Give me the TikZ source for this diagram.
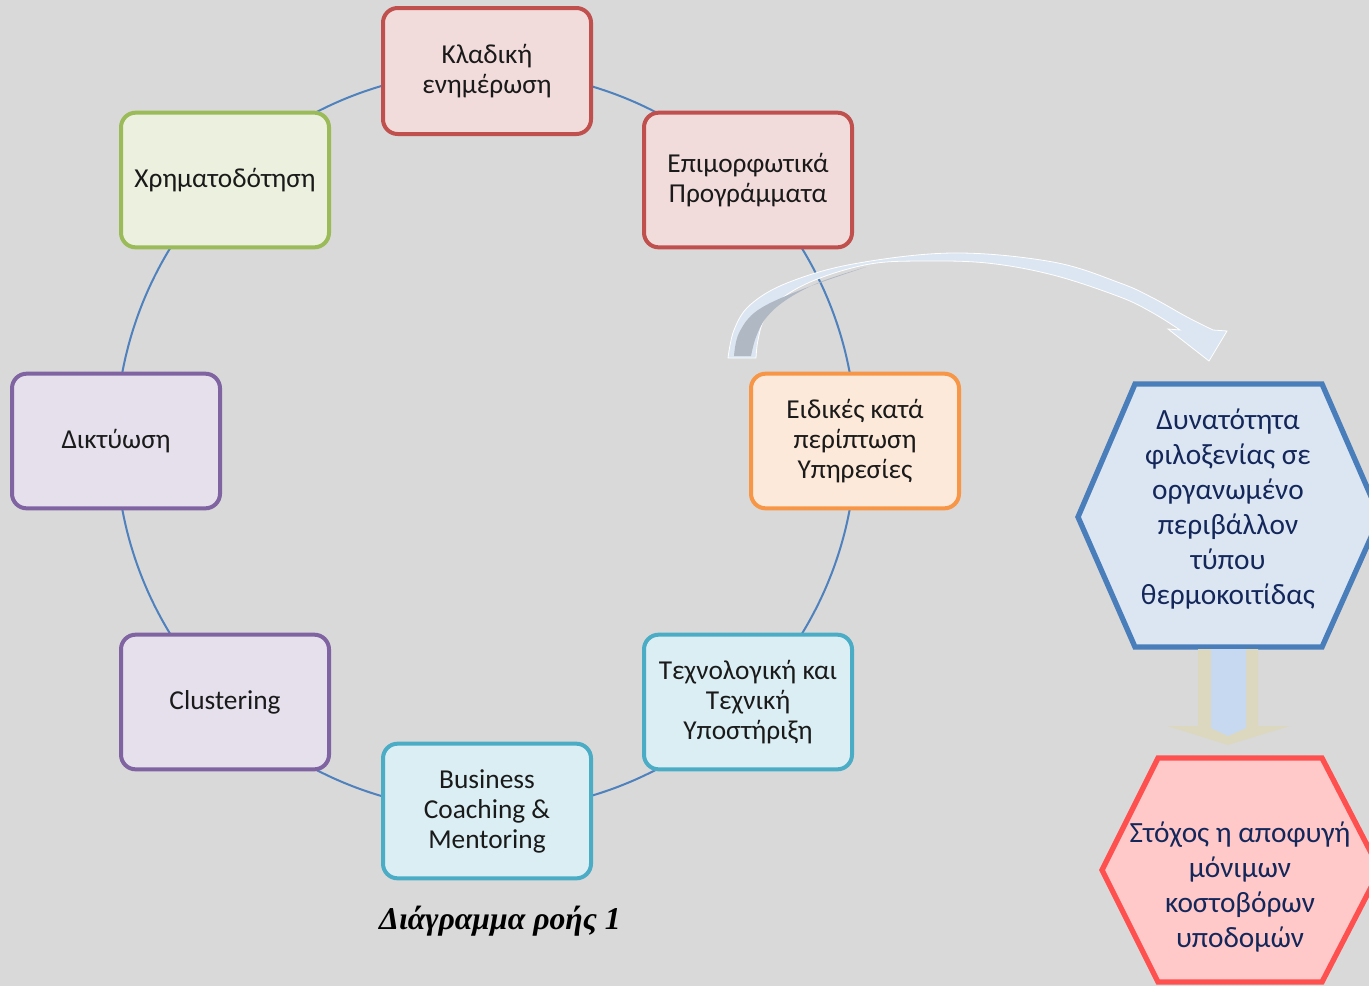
\documentclass[tikz,border=0pt]{standalone}
\usepackage{fontspec}
\setmainfont{Carlito}
\newfontfamily\capfont{Liberation Serif}
\definecolor{bg}{HTML}{D9D9D9}
\definecolor{ringc}{HTML}{4F81BD}
\definecolor{redB}{HTML}{C0504D}
\definecolor{redF}{HTML}{F2DCDB}
\definecolor{orgB}{HTML}{F79646}
\definecolor{orgF}{HTML}{FDE9D9}
\definecolor{tealB}{HTML}{4BACC6}
\definecolor{tealF}{HTML}{DAEEF3}
\definecolor{purB}{HTML}{8064A2}
\definecolor{purF}{HTML}{E5E0EC}
\definecolor{grnB}{HTML}{9BBB59}
\definecolor{grnF}{HTML}{EBF1DE}
\definecolor{hexBlueB}{HTML}{4A7EBB}
\definecolor{hexBlueF}{HTML}{DCE6F2}
\definecolor{hexRedB}{HTML}{FF5050}
\definecolor{hexRedF}{HTML}{FFC9C9}
\definecolor{navy}{HTML}{14275A}
\definecolor{arrF}{HTML}{DCE6F2}
\definecolor{arrG}{HTML}{B0B8C4}
\definecolor{tan}{HTML}{DCD8C0}
\definecolor{ltblue}{HTML}{C6D9F1}
\definecolor{txt}{HTML}{1A1A1A}
\begin{document}
\begin{tikzpicture}[x=0.75pt,y=-0.75pt,
  box/.style={rectangle, rounded corners=11pt, line width=3pt, minimum width=156pt,
    minimum height=101pt, align=center, text=txt, font=\fontsize{20.5}{22.5}\selectfont},
  ringline/.style={draw=ringc, line width=1.5pt},
  hextext/.style={align=center, text=navy, font=\fontsize{22}{26.25}\selectfont},
  hexshape/.style={line width=4pt, line join=miter}]
\clip (0,0) rectangle (1369,986);
\fill[bg] (0,0) rectangle (1369,986);
\useasboundingbox (0,0) rectangle (1369,986);
% ring
\coordinate (rc) at (486,441);
\draw[ringline] (rc) circle[radius=370];
% boxes
\node[box, draw=redB, fill=redF, minimum height=94.5pt] (n1) at (487,71) {Κλαδική\\ενημέρωση};
\node[box, draw=redB, fill=redF] (n2) at (748,180) {Επιμορφωτικά\\Προγράμματα};
\node[box, draw=orgB, fill=orgF] (n3) at (855,441) {Ειδικές κατά\\περίπτωση\\Υπηρεσίες};
\node[box, draw=tealB, fill=tealF] (n4) at (748,702) {Τεχνολογική και\\Τεχνική\\Υποστήριξη};
\node[box, draw=tealB, fill=tealF] (n5) at (487,811) {Business\\Coaching \&\\Mentoring};
\node[box, draw=purB, fill=purF] (n6) at (225,702) {Clustering};
\node[box, draw=purB, fill=purF] (n7) at (116,441) {Δικτύωση};
\node[box, draw=grnB, fill=grnF] (n8) at (225,180) {Χρηματοδότηση};
% curved block arrow
\fill[arrF, draw=white, line width=0.6pt]
  plot[smooth, tension=0.6] coordinates {(728,358) (734,330) (750,305) (787,283) (853,264) (953,253) (1053,262) (1120,283) (1153,298) (1187,317) (1213,330)}
  -- (1227,331) -- (1209,361) -- (1168,329) -- (1180,330)
  -- plot[smooth, tension=0.6] coordinates {(1180,330) (1153,313) (1120,297) (1053,275) (987,263) (920,261) (870,264) (820,278) (785,296) (765,318) (758,340) (756,358)}
  -- cycle;
\fill[arrG]
  plot[smooth, tension=0.6] coordinates {(734,356) (739,333) (758,310) (803,289) (866,267)}
  -- plot[smooth, tension=0.6] coordinates {(866,267) (820,282) (786,300) (766,318) (756,337) (751,356)}
  -- cycle;
% hexagon 1
\filldraw[hexshape, draw=hexBlueB, fill=hexBlueF]
  (1078,517) -- (1135,384) -- (1322,384) -- (1380,517) -- (1322,647) -- (1135,647) -- cycle;
\node[hextext] (h1) at (1228,509) {Δυνατότητα\\φιλοξενίας σε\\οργανωμένο\\περιβάλλον\\τύπου\\θερμοκοιτίδας};
% down arrow
\fill[tan] (1198,649) -- (1258,649) -- (1258,726) -- (1290,726) -- (1228,745) -- (1167,726) -- (1198,726) -- cycle;
\fill[ltblue] (1211,649) -- (1246,649) -- (1246,728) -- (1228,736) -- (1211,728) -- cycle;
% hexagon 2
\filldraw[hexshape, draw=hexRedB, fill=hexRedF]
  (1102,870) -- (1158,758) -- (1322,758) -- (1380,870) -- (1322,982) -- (1158,982) -- cycle;
\node[hextext] (h2) at (1240,887) {Στόχος η αποφυγή\\μόνιμων\\κοστοβόρων\\υποδομών};
% caption
\node[font=\capfont\bfseries\itshape\fontsize{23.8}{28}\selectfont, text=black] (cap) at (500,921) {Διάγραμμα ροής 1};
\end{tikzpicture}
\end{document}
